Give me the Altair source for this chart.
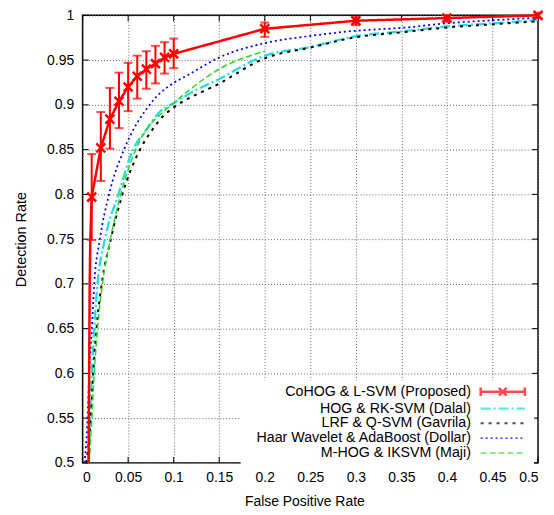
import altair as alt
import pandas as pd

# ---------------- data ----------------
series_names = [
    "CoHOG & L-SVM (Proposed)",
    "HOG & RK-SVM (Dalal)",
    "LRF & Q-SVM (Gavrila)",
    "Haar Wavelet & AdaBoost (Dollar)",
    "M-HOG & IKSVM (Maji)",
]
series_colors = ["#ff0000", "#22dddd", "#000000", "#0000ff", "#22dd22"]
series_dashes = [[1, 0], [10, 3, 2, 3], [3, 5], [2, 3], [6, 3]]
series_widths = [2.5, 1.5, 1.5, 1.5, 1.5]
# legend samples: line with error-bar caps and cross for CoHOG, plain line for others
LINE = "M-3.7,0L3.7,0"
ERRLINE = "M-3.7,0L3.7,0M-3.7,-0.7L-3.7,0.7M3.7,-0.7L3.7,0.7M-0.65,-0.65L0.65,0.65M-0.65,0.65L0.65,-0.65"
series_shapes = [ERRLINE, LINE, LINE, LINE, LINE]

# CoHOG (proposed): points with error bars
red_x = [0.01, 0.02, 0.03, 0.04, 0.05, 0.06, 0.07, 0.08, 0.09, 0.1, 0.2, 0.3, 0.4, 0.5]
red_y = [0.797, 0.852, 0.884, 0.904, 0.920, 0.932, 0.940, 0.946, 0.953, 0.957, 0.985, 0.994, 0.997, 1.0]
red_lo = [0.749, 0.815, 0.851, 0.874, 0.893, 0.907, 0.918, 0.924, 0.935, 0.941, 0.976, 0.989, 0.993, 0.997]
red_hi = [0.845, 0.892, 0.919, 0.936, 0.947, 0.955, 0.960, 0.966, 0.970, 0.974, 0.992, 0.998, 1.0, 1.003]
# low part of the CoHOG curve (no markers)
red_tail_x = [0.0066, 0.0072, 0.0078, 0.0085]
red_tail_y = [0.5, 0.6, 0.7, 0.75]

dalal_x = [0.0066, 0.0082, 0.0102, 0.0128, 0.0164, 0.0245, 0.0393, 0.0553, 0.069, 0.0837, 0.1, 0.12, 0.15, 0.2, 0.25, 0.3, 0.35, 0.4, 0.45, 0.5]
dalal_y = [0.5, 0.55, 0.6, 0.65, 0.7, 0.75, 0.8, 0.85, 0.871, 0.891, 0.902, 0.914, 0.929, 0.955, 0.9646, 0.9767, 0.982, 0.9876, 0.991, 0.9949]

gavrila_x = [0.004, 0.009, 0.0117, 0.0153, 0.021, 0.031, 0.0437, 0.062, 0.075, 0.09, 0.1, 0.15, 0.2, 0.25, 0.3, 0.35, 0.4, 0.45, 0.5]
gavrila_y = [0.5, 0.55, 0.6, 0.65, 0.7, 0.75, 0.8, 0.848, 0.87, 0.889, 0.897, 0.9238, 0.952, 0.964, 0.9756, 0.981, 0.9865, 0.990, 0.9934]

dollar_x = [0.002, 0.0055, 0.0073, 0.0102, 0.0128, 0.019, 0.029, 0.0455, 0.06, 0.07, 0.08, 0.1, 0.115, 0.15, 0.2, 0.25, 0.3, 0.35, 0.4, 0.45, 0.5]
dollar_y = [0.5, 0.55, 0.6, 0.65, 0.7, 0.75, 0.8, 0.85, 0.88, 0.895, 0.908, 0.9245, 0.933, 0.953, 0.969, 0.977, 0.9828, 0.986, 0.9912, 0.9945, 0.9974]

maji_x = [0.0073, 0.0102, 0.0128, 0.0164, 0.0218, 0.0305, 0.0419, 0.0583, 0.0728, 0.0873, 0.1, 0.117, 0.15, 0.2]
maji_y = [0.5, 0.55, 0.6, 0.65, 0.7, 0.75, 0.8, 0.85, 0.876, 0.891, 0.902, 0.9165, 0.940, 0.960]

x_ticks = [0, 0.05, 0.1, 0.15, 0.2, 0.25, 0.3, 0.35, 0.4, 0.45, 0.5]
y_ticks = [0.5, 0.55, 0.6, 0.65, 0.7, 0.75, 0.8, 0.85, 0.9, 0.95, 1]

# ---------------- tables ----------------
red_line_df = pd.DataFrame({
    "series": series_names[0],
    "x": red_tail_x + red_x,
    "y": red_tail_y + red_y,
})
rows = []
for name, xs, ys in [
    (series_names[1], dalal_x, dalal_y),
    (series_names[2], gavrila_x, gavrila_y),
    (series_names[3], dollar_x, dollar_y),
    (series_names[4], maji_x, maji_y),
]:
    for xv, yv in zip(xs, ys):
        rows.append({"series": name, "x": xv, "y": yv})
other_df = pd.DataFrame(rows)
all_df = pd.concat([red_line_df, other_df], ignore_index=True)
red_df = pd.DataFrame({"x": red_x, "y": red_y, "lo": red_lo, "hi": red_hi})
xt_df = pd.DataFrame({"x": x_ticks})
yt_df = pd.DataFrame({"y": y_ticks})

W, H = 458, 450
TICK = 6
FONT = "Liberation Sans"

xscale = alt.Scale(domain=[0, 0.5], nice=False, zero=False)
yscale = alt.Scale(domain=[0.5, 1], nice=False, zero=False)
xaxis = alt.Axis(
    values=x_ticks, format="~g", labelPadding=8, titlePadding=10, titleX=W / 2 - 6,
    titleFont=FONT, titleFontSize=14, titleFontWeight="normal", titleColor="black",
)
yaxis = alt.Axis(
    values=y_ticks, format="~g", labelPadding=9, titlePadding=18,
    titleFont=FONT, titleFontSize=14.5, titleFontWeight="normal", titleColor="black",
)


def X(f):
    return alt.X(f, scale=xscale, axis=xaxis, title="False Positive Rate")


def Y(f):
    return alt.Y(f, scale=yscale, axis=yaxis, title="Detection Rate")


legend = alt.Legend(
    title=None,
    orient="none",
    legendX=159,
    legendY=367,
    fillColor="white",
    padding=4,
    labelFont=FONT,
    labelFontSize=14.3,
    labelColor="black",
    labelLimit=400,
    labelAlign="right",
    labelOffset={"expr": "-39.5"},
    symbolOffset=252,
    symbolType=LINE,
    symbolSize=144,
    rowPadding=0,
)

color_enc = alt.Color("series:N", scale=alt.Scale(domain=series_names, range=series_colors), legend=legend)
dash_enc = alt.StrokeDash("series:N", scale=alt.Scale(domain=series_names, range=series_dashes), legend=legend)
width_enc = alt.StrokeWidth("series:N", scale=alt.Scale(domain=series_names, range=series_widths), legend=legend)
shape_enc = alt.Shape("series:N", scale=alt.Scale(domain=series_names, range=series_shapes), legend=legend)

other_lines = alt.Chart(other_df).mark_line(interpolate="monotone").encode(
    x=X("x:Q"), y=Y("y:Q"), color=color_enc, strokeDash=dash_enc, strokeWidth=width_enc,
)
red_line = alt.Chart(red_line_df).mark_line().encode(
    x=X("x:Q"), y=Y("y:Q"), color=color_enc, strokeDash=dash_enc, strokeWidth=width_enc,
)
# zero-size points: only carry the legend sample shapes
legend_carrier = alt.Chart(all_df).mark_point(size=0, filled=False).encode(
    x=X("x:Q"), y=Y("y:Q"), shape=shape_enc, color=color_enc, strokeDash=dash_enc, strokeWidth=width_enc,
)

err = alt.Chart(red_df).mark_rule(color="#ff0000", strokeWidth=2).encode(
    x=X("x:Q"), y=Y("lo:Q"), y2="hi:Q"
)
cap_lo = alt.Chart(red_df).mark_tick(color="#ff0000", thickness=2, size=9, orient="horizontal").encode(
    x=X("x:Q"), y=Y("lo:Q")
)
cap_hi = alt.Chart(red_df).mark_tick(color="#ff0000", thickness=2, size=9, orient="horizontal").encode(
    x=X("x:Q"), y=Y("hi:Q")
)
pts = alt.Chart(red_df).mark_point(
    shape="M-1,-1L1,1M-1,1L1,-1", size=80, filled=False, color="#ff0000", strokeWidth=2.5, opacity=1
).encode(x=X("x:Q"), y=Y("y:Q"))

tick_bottom = alt.Chart(xt_df).mark_rule(color="black", strokeWidth=1).encode(
    x=X("x:Q"), y=alt.value(H), y2=alt.value(H - TICK)
)
tick_top = alt.Chart(xt_df).mark_rule(color="black", strokeWidth=1).encode(
    x=X("x:Q"), y=alt.value(0), y2=alt.value(TICK)
)
tick_left = alt.Chart(yt_df).mark_rule(color="black", strokeWidth=1).encode(
    y=Y("y:Q"), x=alt.value(0), x2=alt.value(TICK)
)
tick_right = alt.Chart(yt_df).mark_rule(color="black", strokeWidth=1).encode(
    y=Y("y:Q"), x=alt.value(W), x2=alt.value(W - TICK)
)

chart = (
    alt.layer(tick_bottom, tick_top, tick_left, tick_right, other_lines, red_line,
              legend_carrier, err, cap_lo, cap_hi, pts)
    .properties(
        width=W,
        height=H,
        autosize=alt.AutoSizeParams(type="none"),
        padding={"left": 75, "top": 6, "right": 8, "bottom": 50},
    )
    .configure_view(stroke="black", strokeWidth=1.5)
    .configure_axis(
        domain=False,
        grid=True,
        gridColor="#666666",
        gridDash=[1, 2],
        gridWidth=1,
        ticks=False,
        tickSize=0,
        labelFont=FONT,
        labelFontSize=14,
        labelColor="black",
    )
)

chart.save("out.html", embed_options={"renderer": "svg", "actions": False})
